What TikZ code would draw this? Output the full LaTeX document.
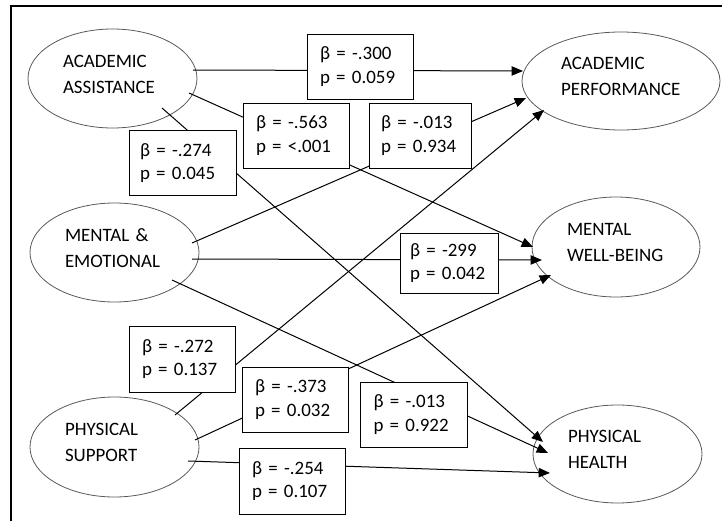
\documentclass[tikz,border=0pt]{standalone}
\usepackage{fontspec}
\setmainfont{Carlito}
\usetikzlibrary{arrows.meta,calc,shapes.geometric}
\newcommand{\lowstrut}{\rule[-6.7pt]{0pt}{6.7pt}}
\begin{document}
\begin{tikzpicture}[x=0.75pt,y=-0.75pt,
  latent/.style={ellipse, draw=black!65, line width=0.6pt, inner sep=0pt, align=left,
    font=\fontsize{14.2}{19.5}\selectfont},
  coef/.style={rectangle, draw=black, line width=0.7pt, fill=white, align=left,
    inner ysep=0pt, inner xsep=9.75pt, text width=60pt, minimum height=48.75pt,
    font=\fontsize{14.2}{17.5}\selectfont},
  conn/.style={draw=black, line width=0.75pt, -{Triangle[length=8.5pt,width=7pt]}}]
\useasboundingbox (0,0) rectangle (722,521);
\draw[line width=1.1pt] (11,521) -- (11,6) -- (722,6);

% latent variables
\node[latent, minimum width=126.75pt, minimum height=74.25pt, text width=74.25pt] (aa) at (112.5,78.5) {ACADEMIC\\ASSISTANCE\lowstrut};
\node[latent, minimum width=126.75pt, minimum height=74.25pt, text width=74.25pt] (me) at (114.5,252.5) {MENTAL \&\\EMOTIONAL\lowstrut};
\node[latent, minimum width=126.75pt, minimum height=75pt, text width=74.25pt] (ps) at (114.5,447) {PHYSICAL\\SUPPORT\lowstrut};
\node[latent, minimum width=148.5pt, minimum height=73.5pt, text width=90pt] (ap) at (621,81) {ACADEMIC\\PERFORMANCE\lowstrut};
\node[latent, minimum width=126pt, minimum height=75pt, text width=73.5pt] (mw) at (616,247) {MENTAL\\WELL-BEING\lowstrut};
\node[latent, minimum width=126.75pt, minimum height=73.5pt, text width=74.25pt] (ph) at (617.5,454) {PHYSICAL\\HEALTH\lowstrut};

% connector end points
\coordinate (aa1) at ($(aa.center)+(80.5,-8.5)$);
\coordinate (aa2) at ($(aa.center)+(76.5,14.5)$);
\coordinate (aa3) at ($(aa.center)+(49.5,29.5)$);
\coordinate (me1) at ($(me.center)+(77.5,-9.5)$);
\coordinate (me2) at ($(me.center)+(77.5,6.5)$);
\coordinate (me3) at ($(me.center)+(57.5,27.5)$);
\coordinate (ps1) at ($(ps.center)+(60.5,-32)$);
\coordinate (ps2) at ($(ps.center)+(80.5,-7)$);
\coordinate (ps3) at ($(ps.center)+(73.5,14)$);
\coordinate (ap1) at ($(ap.center)+(-98,-10)$);
\coordinate (ap2) at ($(ap.center)+(-95,17)$);
\coordinate (ap3) at ($(ap.center)+(-77,29)$);
\coordinate (mw1) at ($(mw.center)+(-83,0)$);
\coordinate (mw2) at ($(mw.center)+(-74,13)$);
\coordinate (mw3) at ($(mw.center)+(-65,28)$);
\coordinate (ph1) at ($(ph.center)+(-74.5,-12)$);
\coordinate (ph2) at ($(ph.center)+(-69.5,-1)$);
\coordinate (ph3) at ($(ph.center)+(-67.5,19)$);

% paths
\draw[conn] (aa1) -- (ap1);
\draw[conn] (aa2) -- (mw1);
\draw[conn] (aa3) -- (ph1);
\draw[conn] (me1) -- (ap2);
\draw[conn] (me2) -- (mw2);
\draw[conn] (me3) -- (ph2);
\draw[conn] (ps1) -- (ap3);
\draw[conn] (ps2) -- (mw3);
\draw[conn] (ps3) -- (ph3);

% coefficient boxes
\node[coef] (b300) at (360,66.5) {β = -.300\\p = 0.059};
\node[coef] (b563) at (296,135.5) {β = -.563\\p = <.001};
\node[coef, text width=63.75pt, inner xsep=8.25pt] (b274) at (182.5,163) {β = -.274\\p = 0.045};
\node[coef, text width=58.5pt, inner xsep=9pt] (b013a) at (420,135.5) {β = -.013\\p = 0.934};
\node[coef, text width=58.5pt, inner xsep=7.5pt, minimum height=45pt] (b299) at (449,263) {β = -299\\p = 0.042};
\node[coef, minimum height=49.5pt] (b272) at (182,359) {β = -.272\\p = 0.137};
\node[coef] (b373) at (295,399.5) {β = -.373\\p = 0.032};
\node[coef, text width=60pt, inner xsep=10.125pt] (b013b) at (413.5,414.5) {β = -.013\\p = 0.922};
\node[coef, minimum height=49.5pt] (b254) at (292,481) {β = -.254\\p = 0.107};
\end{tikzpicture}
\end{document}
